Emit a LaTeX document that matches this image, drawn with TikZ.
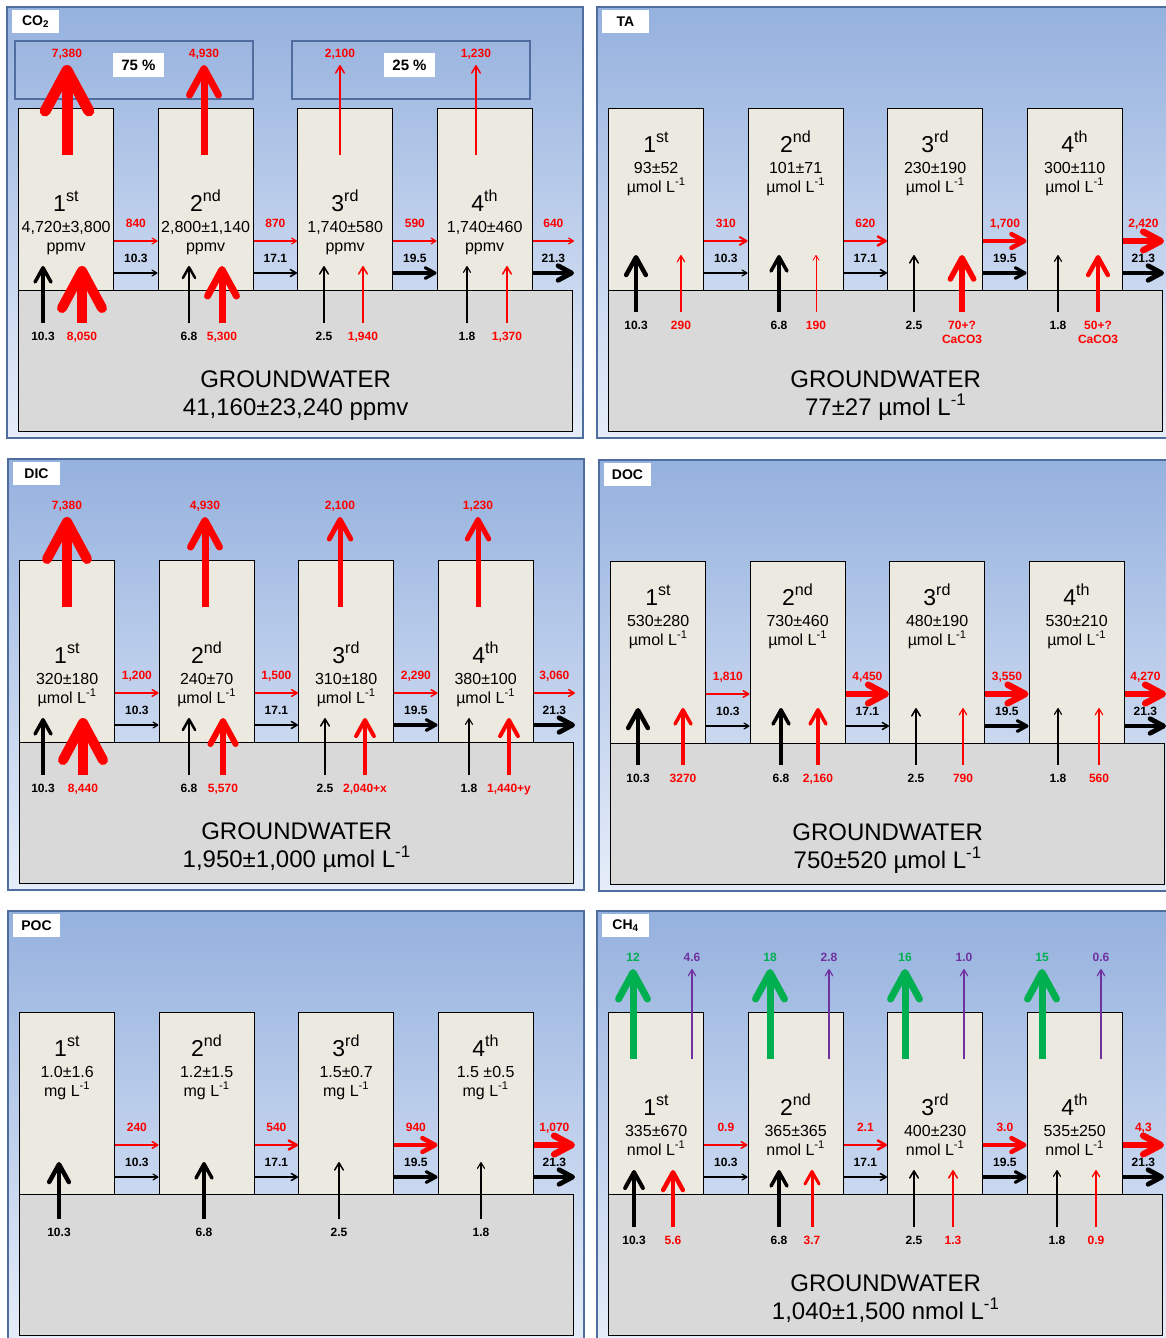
\documentclass[tikz,border=0pt]{standalone}
\usepackage{fontspec}
\setmainfont{Liberation Sans}
\usetikzlibrary{arrows.meta}
\definecolor{skytop}{HTML}{95B1DE}
\definecolor{skybot}{HTML}{E6EDF9}
\definecolor{frameblue}{HTML}{4F6D9E}
\definecolor{poolfill}{HTML}{ECEAE0}
\definecolor{gwfill}{HTML}{D9D9D9}
\definecolor{fluxred}{HTML}{FF0000}
\definecolor{fluxgreen}{HTML}{00B050}
\definecolor{fluxpurple}{HTML}{7030A0}
\tikzset{
  panel/.style={draw=frameblue,line width=1.2pt,top color=skytop,bottom color=skybot},
  tag/.style={fill=white,minimum width=47pt,minimum height=23pt,inner sep=0pt,font=\fontsize{14}{16}\selectfont\bfseries},
  share/.style={draw=frameblue,line width=1.2pt},
  sharetag/.style={fill=white,minimum width=51pt,minimum height=24pt,inner sep=0pt,font=\fontsize{15}{17}\selectfont\bfseries},
  pool/.style={draw=black,line width=1.3pt,fill=poolfill,anchor=north west,minimum width=95pt,minimum height=182pt,inner sep=0pt},
  gw/.style={draw=black,line width=1.3pt,fill=gwfill,anchor=north west,minimum width=554pt,minimum height=141pt,inner sep=0pt},
  vflux/.style={-{Straight Barb[round,length=2pt 3.5,width=3pt 3.7]}},
  hflux/.style={-{Straight Barb[round,length=2pt 2.4,width=3pt 2.4]}},
  num/.style={font=\fontsize{12}{14}\selectfont\bfseries,inner sep=0pt,outer sep=0pt,align=center},
  ordinal/.style={font=\fontsize{23}{26}\selectfont,anchor=base,inner sep=0pt},
  conc/.style={font=\fontsize{16}{18}\selectfont,anchor=base,inner sep=0pt},
  gwtext/.style={font=\fontsize{24}{28}\selectfont,anchor=base,inner sep=0pt},
}
\newcommand\perL[1]{#1~L\textsuperscript{-1}}
% frame, groundwater, the four reaches and the downstream water flow
\newcommand\basin[1]{%
  \draw[panel] (7,7) rectangle (583,438);
  \node[tag] (tag) at (35.5,21.5) {#1};
  \node[gw] (gw) at (18,290) {};
  \foreach \i/\x in {1/18,2/157.5,3/297,4/436.5}
    \node[pool] (p\i) at (\x,108) {};
  \coordinate (out) at (574,273);
  \foreach \a/\b/\v/\w in {p1/p2/10.3/1.2,p2/p3/17.1/1.6,p3/p4/19.5/3.2,p4/out/21.3/4.8}
    \draw[hflux,line width=\w] (\a.east |- 0,273) -- node[num,anchor=base,yshift=11pt]{\v} (\b.west |- 0,273);
}
\newcommand\reaches[6]{%
  \foreach \i/\s/\c in {1/st/{#3},2/nd/{#4},3/rd/{#5},4/th/{#6}}{
    \node[ordinal] (o\i) at (p\i.north |- 0,#1) {\i\textsuperscript{\s}};
    \node[conc] (c\i) at (p\i.north |- 0,#1+21) {\c};
    \node[conc] (u\i) at (p\i.north |- 0,#1+40) {#2};
  }
}
\newcommand\riverflux[1]{%
  \foreach \a/\b/\v/\w in {#1}
    \draw[hflux,fluxred,line width=\w] (\a.east |- 0,241) -- node[num,anchor=base,yshift=14pt]{\v} (\b.west |- 0,241);
}
\newcommand\gwflux[3]{%
  \foreach \x/\v/\w in {#3}
    \draw[vflux,#1,line width=\w] (\x,#2+57) node[num,anchor=north,yshift=-9pt]{\v} -- (\x,#2);
}
\newcommand\topflux[2]{%
  \foreach \x/\v/\w in {#2}
    \draw[vflux,#1,line width=\w] (\x,155) -- (\x,65) node[num,anchor=base,yshift=8pt]{\v};
}
\newcommand\groundwater[1]{%
  \node[gwtext] (gwname) at (gw.north |- 0,387) {GROUNDWATER};
  \node[gwtext] (gwconc) at (gw.north |- 0,415) {#1};
}

\begin{document}
\begin{tikzpicture}[x=1pt,y=-1pt]
\fill[white] (0,0) rectangle (1166,1338);
\useasboundingbox (0,0) rectangle (1166,1338);

% CO2
\begin{scope}[name prefix=co2-]
  \basin{CO\textsubscript{2}}
  \draw[share] (15,41) rectangle (253,99);
  \draw[share] (292,41) rectangle (530,99);
  \node[sharetag] (s75) at (138.5,65) {75 \%};
  \node[sharetag] (s25) at (409.5,65) {25 \%};
  \reaches{211}{ppmv}{4,720±3,800}{2,800±1,140}{1,740±580}{1,740±460}
  \groundwater{41,160±23,240 ppmv}
  \riverflux{p1/p2/840/1.2,p2/p3/870/1.2,p3/p4/590/1.2,p4/out/640/1.2}
  \topflux{fluxred}{67/{7,380}/11,204/{4,930}/7,340/{2,100}/1.5,476/{1,230}/1.5}
  \gwflux{black}{266}{43/10.3/3.5,189/6.8/2.5,324/2.5/1.5,467/1.8/1.1}
  \gwflux{fluxred}{266}{82/{8,050}/10,222/{5,300}/7,363/{1,940}/1.5,507/{1,370}/1.5}
\end{scope}

% TA
\begin{scope}[shift={(590,0)},name prefix=ta-]
  \basin{TA}
  \reaches{152}{\perL{µmol}}{93±52}{101±71}{230±190}{300±110}
  \groundwater{77±27 \perL{µmol}}
  \riverflux{p1/p2/310/2,p2/p3/620/2.5,p3/p4/{1,700}/4.5,p4/out/{2,420}/6.5}
  \gwflux{black}{255}{46/10.3/4.5,189/6.8/3.5,324/2.5/1.5,468/1.8/1.1}
  \gwflux{fluxred}{255}{91/290/1.2,226/190/0.8,372/{70+?\\CaCO3}/5.5,508/{50+?\\CaCO3}/4.5}
\end{scope}

% DIC
\begin{scope}[shift={(1,452)},name prefix=dic-]
  \basin{DIC}
  \reaches{211}{\perL{µmol}}{320±180}{240±70}{310±180}{380±100}
  \groundwater{1,950±1,000 \perL{µmol}}
  \riverflux{p1/p2/{1,200}/1.5,p2/p3/{1,500}/1.5,p3/p4/{2,290}/1.5,p4/out/{3,060}/1.5}
  \topflux{fluxred}{66/{7,380}/10,204/{4,930}/7,339/{2,100}/5,477/{1,230}/5}
  \gwflux{black}{266}{42/10.3/3.5,188/6.8/2.5,324/2.5/1.5,468/1.8/1.1}
  \gwflux{fluxred}{266}{82/{8,440}/10,222/{5,570}/6,364/{2,040+x}/4,508/{1,440+y}/4}
\end{scope}

% DOC
\begin{scope}[shift={(592,453)},name prefix=doc-]
  \basin{DOC}
  \reaches{152}{\perL{µmol}}{530±280}{730±460}{480±190}{530±210}
  \groundwater{750±520 \perL{µmol}}
  \riverflux{p1/p2/{1,810}/1.5,p2/p3/{4,450}/6.5,p3/p4/{3,550}/6.5,p4/out/{4,270}/6.5}
  \gwflux{black}{255}{46/10.3/4.5,189/6.8/3.5,324/2.5/1.5,466/1.8/1.1}
  \gwflux{fluxred}{255}{91/3270/3.5,226/{2,160}/3.5,371/790/1.2,507/560/1.2}
\end{scope}

% POC
\begin{scope}[shift={(1,904)},name prefix=poc-]
  \basin{POC}
  \reaches{152}{\perL{mg}}{1.0±1.6}{1.2±1.5}{1.5±0.7}{1.5 ±0.5}
  \riverflux{p1/p2/240/1.5,p2/p3/540/2.5,p3/p4/940/4.5,p4/out/{1,070}/6.5}
  \gwflux{black}{258}{58/10.3/4.5,203/6.8/3.5,338/2.5/1.5,480/1.8/1.1}
\end{scope}

% CH4
\begin{scope}[shift={(590,904)},name prefix=ch4-]
  \basin{CH\textsubscript{4}}
  \reaches{211}{\perL{nmol}}{335±670}{365±365}{400±230}{535±250}
  \groundwater{1,040±1,500 \perL{nmol}}
  \riverflux{p1/p2/0.9/1.5,p2/p3/2.1/2.5,p3/p4/3.0/4.5,p4/out/{4,3}/6.5}
  \topflux{fluxgreen}{43/12/7,180/18/7,315/16/7,452/15/7}
  \topflux{fluxpurple}{102/4.6/1.2,239/2.8/1.2,374/1.0/1.2,511/0.6/1.2}
  \gwflux{black}{266}{44/10.3/4,189/6.8/3.5,324/2.5/1.5,467/1.8/1.1}
  \gwflux{fluxred}{266}{83/5.6/4.5,222/3.7/3,363/1.3/1.5,506/0.9/1.2}
\end{scope}
\end{tikzpicture}
\end{document}
